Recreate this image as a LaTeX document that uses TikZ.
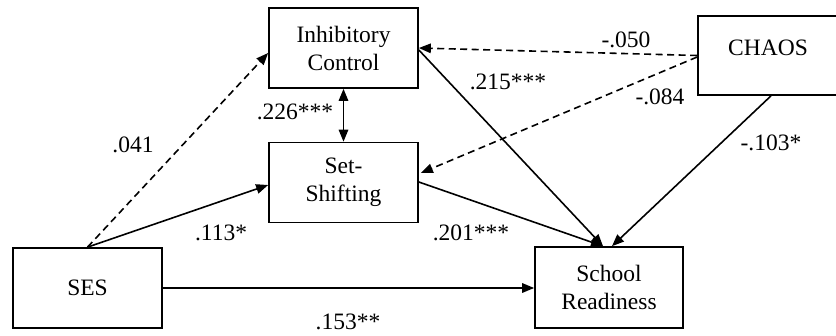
\documentclass[tikz,border=0pt]{standalone}
\usepackage{fontspec}
\setmainfont{Liberation Serif}
\usetikzlibrary{arrows.meta}
\begin{document}
\begin{tikzpicture}[x=1pt,y=-1pt,
  box/.style={draw,line width=1.7pt,inner sep=0pt,align=center,
    font=\fontsize{23.5}{28}\selectfont,minimum width=149pt,minimum height=80pt},
  lbl/.style={inner sep=0pt,font=\fontsize{23.5}{28}\selectfont},
  tip/.tip={Triangle[length=12pt,width=9.5pt]},
  path/.style={line width=1.6pt,-tip},
  dpath/.style={path,dash pattern=on 7pt off 4.5pt}]
\useasboundingbox (0,0) rectangle (836,335);
\node[box] (ic) at (343.5,48) {Inhibitory\\Control};
\node[box] (ss) at (343.5,182.5) {Set-\\Shifting};
\node[box,minimum width=140pt,minimum height=79pt,text height=16pt,text depth=17pt] (chaos) at (768,55.5) {CHAOS};
\node[box] (ses) at (87.5,288) {SES};
\node[box,minimum width=148pt,minimum height=81pt] (sr) at (609,287.5) {School\\Readiness};
\coordinate (srA) at ([xshift=-6pt]sr.north);
\coordinate (srB) at ([xshift=3pt]sr.north);
\draw[dpath] (ses.north) -- ([yshift=-5pt]ic.west);
\draw[path] (ses.north) -- ([yshift=-2.5pt]ss.west);
\draw[line width=1.6pt,tip-tip] (ic.south) -- (ss.south |- ss.north);
\draw[dpath] (chaos.west) -- (ic.east);
\draw[dpath] ([yshift=-1.5pt]chaos.west) -- ([xshift=2pt,yshift=9.5pt]ss.east);
\draw[path] ([yshift=-2pt]ic.east) -- (srA);
\draw[path] ([yshift=0.5pt]ss.east) -- (srA);
\draw[path] ([xshift=3pt]chaos.south) -- (srB);
\draw[path] (ses.east) -- (sr.west |- ses.east);
\node[lbl] (l1) at (133,145) {.041};
\node[lbl] (l2) at (295,112) {.226***};
\node[lbl] (l3) at (626,40) {-.050};
\node[lbl] (l4) at (508,82) {.215***};
\node[lbl] (l5) at (660,97) {-.084};
\node[lbl] (l6) at (771,143) {-.103*};
\node[lbl] (l7) at (221,233) {.113*};
\node[lbl] (l8) at (348,322) {.153**};
\node[lbl] (l9) at (471,233) {.201***};
\end{tikzpicture}
\end{document}
